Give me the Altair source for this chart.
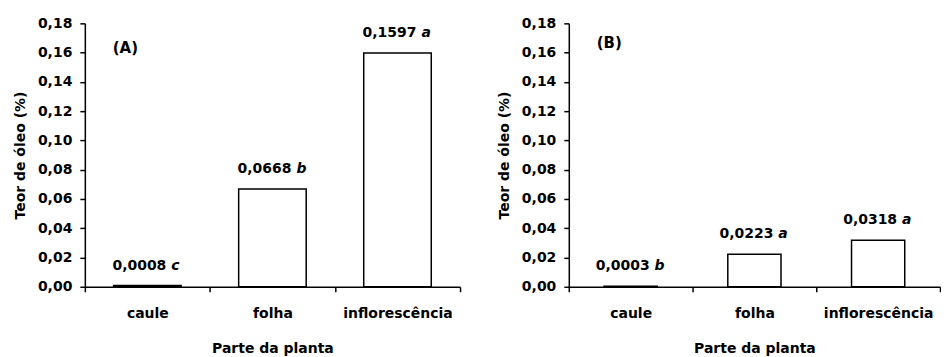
import altair as alt
import pandas as pd

partes = ["caule", "folha", "inflorescência"]
teor_a = [0.0008, 0.0668, 0.1597]
letras_a = ["c", "b", "a"]
teor_b = [0.0003, 0.0223, 0.0318]
letras_b = ["b", "a", "a"]
y_ticks = [0.0, 0.02, 0.04, 0.06, 0.08, 0.10, 0.12, 0.14, 0.16, 0.18]

FONT = "DejaVu Sans"
FS = 14


def panel(valores, letras, tag, tag_y, width, bar_band):
    df = pd.DataFrame({"parte": partes, "teor": valores, "letra": letras})
    base = alt.Chart(df).transform_calculate(
        rotulo="replace(format(datum.teor, '.4f'), '.', ',')"
    )
    x = alt.X(
        "parte:N",
        sort=partes,
        scale=alt.Scale(paddingInner=0, paddingOuter=0),
        axis=alt.Axis(
            title="Parte da planta",
            labelAngle=0,
            tickBand="extent",
            tickSize=5,
            labelPadding=15,
            titlePadding=21,
        ),
    )
    y = alt.Y(
        "teor:Q",
        scale=alt.Scale(domain=[0, 0.18], nice=False),
        axis=alt.Axis(
            values=y_ticks,
            labelExpr="replace(format(datum.value, '.2f'), '.', ',')",
            labelOverlap=False,
            title="Teor de óleo (%)",
            tickSize=5,
            labelPadding=8,
            titlePadding=10,
        ),
    )
    bars = base.mark_bar(
        fill="white", stroke="black", strokeWidth=1.5,
        width=alt.RelativeBandSize(bar_band),
    ).encode(x=x, y=y)
    num = base.mark_text(
        align="right", baseline="middle", dx=19, dy=-20,
        font=FONT, fontWeight="bold", fontSize=FS, color="black",
    ).encode(x=x, y=y, text="rotulo:N")
    let = base.mark_text(
        align="left", baseline="middle", dx=24, dy=-20,
        font=FONT, fontWeight="bold", fontStyle="italic", fontSize=FS, color="black",
    ).encode(x=x, y=y, text="letra:N")
    tag_chart = alt.Chart(pd.DataFrame({"t": [tag]})).mark_text(
        align="left", baseline="middle", font=FONT, fontWeight="bold",
        fontSize=15, color="black",
    ).encode(x=alt.value(28), y=alt.value(tag_y), text="t:N")
    return alt.layer(bars, num, let, tag_chart).properties(width=width, height=264)


chart = alt.hconcat(
    panel(teor_a, letras_a, "(A)", 25, 376, 0.54),
    panel(teor_b, letras_b, "(B)", 20, 372, 0.43),
    spacing=36,
).properties(
    padding={"left": 5, "top": 8, "right": 0, "bottom": 2},
    background="white",
).configure_view(stroke=None).configure_axis(
    grid=False,
    domainColor="black",
    domainWidth=1.5,
    tickColor="black",
    tickWidth=1.5,
    labelColor="black",
    titleColor="black",
    labelFont=FONT,
    titleFont=FONT,
    labelFontSize=FS,
    titleFontSize=FS,
    labelFontWeight="bold",
    titleFontWeight="bold",
)

chart.save("out.html", embed_options={"renderer": "svg", "actions": False})
